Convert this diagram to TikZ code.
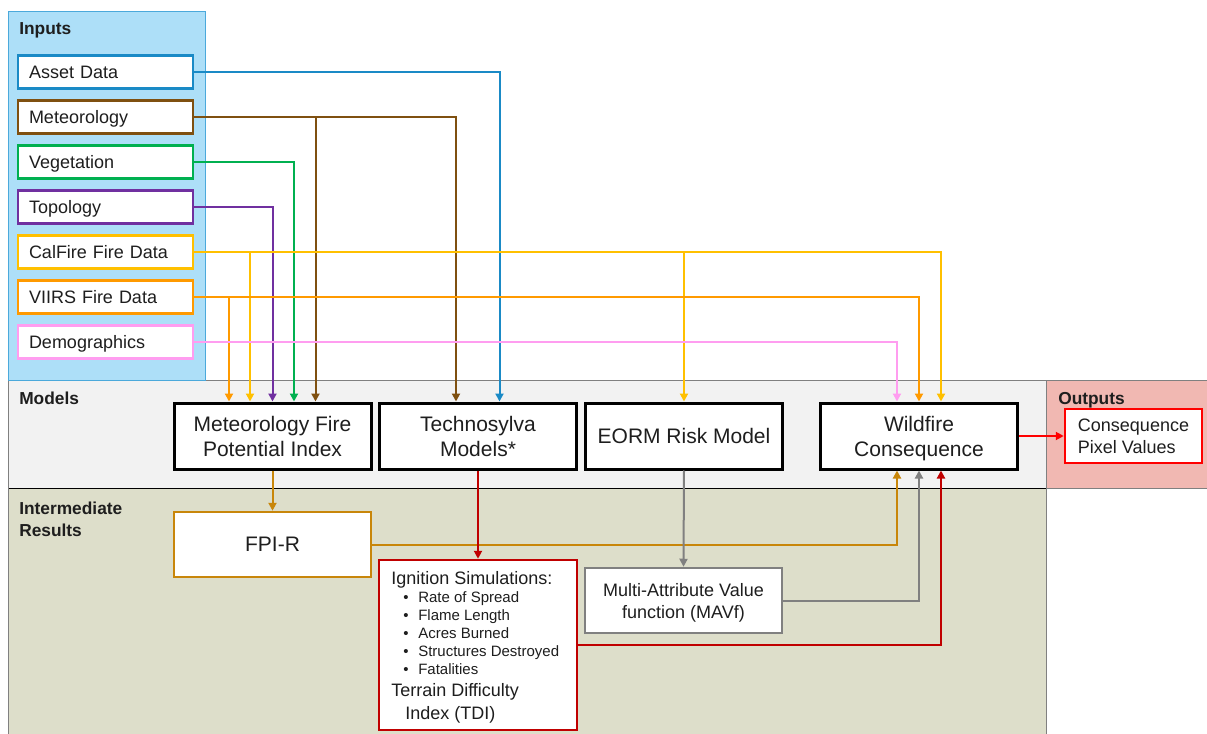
\documentclass[tikz,border=0pt]{standalone}
\usepackage{fontspec}
\setmainfont{Liberation Sans}
\usetikzlibrary{arrows.meta,calc}

\definecolor{cAsset}{HTML}{1A8AC6}
\definecolor{cBrown}{HTML}{7F5010}
\definecolor{cGreen}{HTML}{00B050}
\definecolor{cPurple}{HTML}{7030A0}
\definecolor{cYellow}{HTML}{FFC000}
\definecolor{cOrange}{HTML}{FF9A00}
\definecolor{cPink}{HTML}{FF9DF0}
\definecolor{cGold}{HTML}{C8860A}
\definecolor{cRed}{HTML}{C00000}
\definecolor{cBright}{HTML}{FF0000}
\definecolor{cGray}{HTML}{808080}
\definecolor{cInFill}{HTML}{ADDFF8}
\definecolor{cInLine}{HTML}{4BA9DB}
\definecolor{cModFill}{HTML}{F2F2F2}
\definecolor{cMidFill}{HTML}{DDDECA}
\definecolor{cOutFill}{HTML}{F1B8B2}
\definecolor{cText}{HTML}{1E1E1E}

% a line whose descenders do not count towards the box depth
\newcommand{\nodepth}[1]{\raisebox{0pt}[\height][0pt]{#1}}

\begin{document}
\begin{tikzpicture}[x=0.75pt,y=-0.75pt,
  every node/.style={text=cText},
  band/.style={draw=cGray, line width=0.75pt},
  heading/.style={anchor=base west, inner sep=0pt, font=\bfseries\fontsize{13}{15}\selectfont},
  inbox/.style={draw, fill=white, line width=1.875pt, text width=114.75pt,
    inner xsep=8.25pt, inner ysep=0pt, minimum height=24.75pt, align=left,
    text height=9.7pt, text depth=0pt,
    font=\fontsize{13.5}{16}\selectfont},
  modelbox/.style={draw=black, fill=white, line width=2.25pt, minimum width=147.75pt,
    minimum height=49.5pt, align=center, inner sep=0pt,
    font=\fontsize{15.75}{18.75}\selectfont},
  midbox/.style={draw, fill=white, line width=1.875pt, minimum width=147.75pt,
    minimum height=48.75pt, align=center, inner sep=0pt},
  conn/.style={line width=1.5pt, -{Triangle[length=6pt,width=6pt]}},
  ltext/.style={anchor=base west, inner sep=0pt, font=\fontsize{13.5}{16}\selectfont},
  btext/.style={anchor=base west, inner sep=0pt, font=\fontsize{11.25}{13}\selectfont}
]
\useasboundingbox (0,0) rectangle (1207,734);

% background bands
\fill[cModFill] (8,380) rectangle (1046,488);
\fill[cOutFill] (1046,380) rectangle (1207,488);
\fill[cMidFill] (8,488) rectangle (1046,734);
\draw[band] (8,380) -- (1207,380);
\draw[band] (1046,380) -- (1046,734);
\draw[band, draw=black] (8,488) -- (1046,488);
\draw[band] (1046,488) -- (1207,488);
\draw[band] (8,380) -- (8,734);

% inputs panel
\draw[fill=cInFill, draw=cInLine, line width=0.75pt] (8,12) rectangle (205,380);

% section headings
\node[heading] (hIn) at (19,35) {Inputs};
\node[heading] (hMod) at (19,404) {Models};
\node[heading] (hMid1) at (19,514) {Intermediate};
\node[heading] (hMid2) at (19,536) {Results};
\node[heading] (hOut) at (1058,404) {Outputs};

% input boxes
\node[inbox, draw=cAsset]  (asset) at (105.5,72)  {Asset Data};
\node[inbox, draw=cBrown]  (meteo) at (105.5,117) {Meteorology};
\node[inbox, draw=cGreen]  (veg)   at (105.5,162) {Vegetation};
\node[inbox, draw=cPurple] (topo)  at (105.5,207) {Topology};
\node[inbox, draw=cYellow] (calf)  at (105.5,252) {CalFire Fire Data};
\node[inbox, draw=cOrange] (viirs) at (105.5,297) {VIIRS Fire Data};
\node[inbox, draw=cPink]   (demo)  at (105.5,342) {Demographics};

% model boxes
\node[modelbox] (mfpi)   at (272.5,436) {Meteorology Fire\\Potential Index};
\node[modelbox] (techno) at (478,436)   {Technosylva\\Models*};
\node[modelbox] (eorm)   at (684,436)   {EORM Risk Model};
\node[modelbox] (wild)   at (919,436)   {Wildfire\\\nodepth{Consequence}};

% output box
\node[draw=cBright, fill=white, line width=1.875pt, minimum width=102.75pt,
  minimum height=40.5pt, align=left, inner sep=0pt,
  font=\fontsize{13.5}{16.5}\selectfont] (cpv) at (1133.5,436) {Consequence\\Pixel Values};

% intermediate results
\node[midbox, draw=cGold, font=\fontsize{15.75}{18.75}\selectfont] (fpir) at (272.5,544.5) {FPI-R};
\node[midbox, draw=cGray, font=\fontsize{13.5}{16.5}\selectfont] (mavf) at (683.5,600.5) {Multi-Attribute Value\\\nodepth{function (MAVf)}};
\node[draw=cRed, fill=white, line width=1.875pt, minimum width=148.5pt,
  minimum height=127.5pt, inner sep=0pt] (ign) at (478,645) {};
\node[ltext] (ignT) at (391,584) {Ignition Simulations:};
\node[btext] (b1) at (403,602) {\textbullet};
\node[btext] (i1) at (418,602) {Rate of Spread};
\node[btext] (b2) at (403,620) {\textbullet};
\node[btext] (i2) at (418,620) {Flame Length};
\node[btext] (b3) at (403,638) {\textbullet};
\node[btext] (i3) at (418,638) {Acres Burned};
\node[btext] (b4) at (403,656) {\textbullet};
\node[btext] (i4) at (418,656) {Structures Destroyed};
\node[btext] (b5) at (403,674) {\textbullet};
\node[btext] (i5) at (418,674) {Fatalities};
\node[ltext] (tdi1) at (391,696) {Terrain Difficulty};
\node[ltext] (tdi2) at (405,719) {Index (TDI)};

% arrow landing points
\coordinate (mV) at ($(mfpi.north)+(-43.5,0)$);
\coordinate (mC) at ($(mfpi.north)+(-22.5,0)$);
\coordinate (mT) at ($(mfpi.north)+(0,0)$);
\coordinate (mG) at ($(mfpi.north)+(21.5,0)$);
\coordinate (mM) at ($(mfpi.north)+(43,0)$);
\coordinate (tM) at ($(techno.north)+(-22,0)$);
\coordinate (tA) at ($(techno.north)+(21.5,0)$);
\coordinate (wD) at ($(wild.north)+(-22,0)$);
\coordinate (wV) at ($(wild.north)+(0,0)$);
\coordinate (wC) at ($(wild.north)+(22,0)$);
\coordinate (wF) at ($(wild.south)+(-22,0)$);
\coordinate (wM) at ($(wild.south)+(0,0)$);
\coordinate (wI) at ($(wild.south)+(22,0)$);

% input connectors
\draw[conn, cAsset]  (asset.east) -| (tA);
\draw[conn, cBrown]  (meteo.east) -| (tM);
\draw[conn, cBrown]  (mM |- meteo.east) -- (mM);
\draw[conn, cGreen]  (veg.east) -| (mG);
\draw[conn, cPurple] (topo.east) -| (mT);
\draw[conn, cYellow] (calf.east) -| (wC);
\draw[conn, cYellow] (mC |- calf.east) -- (mC);
\draw[conn, cYellow] (eorm.north |- calf.east) -- (eorm.north);
\draw[conn, cOrange] (viirs.east) -| (wV);
\draw[conn, cOrange] (mV |- viirs.east) -- (mV);
\draw[conn, cPink]   (demo.east) -| (wD);

% model and result connectors
\draw[conn, cGold] (mfpi.south) -- (fpir.north);
\draw[conn, cGold] (fpir.east) -| (wF);
\draw[conn, cRed]  (techno.south) -- (ign.north);
\draw[conn, cGray] (eorm.south) -- (mavf.north);
\draw[conn, cGray] (mavf.east) -| (wM);
\draw[conn, cRed]  (ign.east) -| (wI);
\draw[conn, cBright] (wild.east) -- (cpv.west);
\end{tikzpicture}
\end{document}
